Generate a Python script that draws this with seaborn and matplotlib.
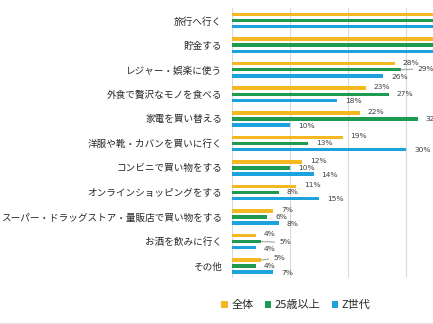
import matplotlib
matplotlib.use("Agg")
import matplotlib.pyplot as plt
from matplotlib.lines import Line2D
import pandas as pd
import seaborn as sns

# --- data -----------------------------------------------------------------
categories = [
    "旅行へ行く",
    "貯金する",
    "レジャー・娯楽に使う",
    "外食で贅沢なモノを食べる",
    "家電を買い替える",
    "洋服や靴・カバンを買いに行く",
    "コンビニで買い物をする",
    "オンラインショッピングをする",
    "スーパー・ドラッグストア・量販店で買い物をする",
    "お酒を飲みに行く",
    "その他",
]
series = ["全体", "25歳以上", "Z世代"]
overall = [47, 45, 28, 23, 22, 19, 12, 11, 7, 4, 5]
age25_plus = [50, 41, 29, 27, 32, 13, 10, 8, 6, 5, 4]
gen_z = [43, 49, 26, 18, 10, 30, 14, 15, 8, 4, 7]

colors = ["#F4B922", "#1E9B50", "#1CA2DC"]

df = pd.DataFrame({
    "category": categories * 3,
    "series": [series[0]] * len(categories)
              + [series[1]] * len(categories)
              + [series[2]] * len(categories),
    "value": overall + age25_plus + gen_z,
})

# --- figure ---------------------------------------------------------------
sns.set_theme(style="white")
plt.rcParams["font.family"] = ["Noto Sans CJK JP", "DejaVu Sans"]

W, H, DPI = 433, 324, 100
fig = plt.figure(figsize=(W / DPI, H / DPI), dpi=DPI)
fig.patch.set_facecolor("white")

left_px, top_px, bottom_px = 232.3, 8.4, 278.3
px_per_unit = 5.8  # pixels per percentage point
xmax = 60
ax = fig.add_axes([
    left_px / W,
    1 - bottom_px / H,
    xmax * px_per_unit / W,
    (bottom_px - top_px) / H,
])

sns.barplot(
    data=df, y="category", x="value", hue="series",
    order=categories, hue_order=series, palette=colors,
    orient="h", width=0.74, gap=0.42, saturation=1,
    errorbar=None, linewidth=0, ax=ax,
)

ax.set_xlim(0, xmax)
ax.set_xticks(range(0, xmax + 1, 10))
ax.set_xticklabels([])
ax.tick_params(axis="x", length=0)
ax.tick_params(axis="y", length=0, pad=7.2, labelsize=6.9, labelcolor="#262626")
ax.set_xlabel("")
ax.set_ylabel("")
ax.grid(axis="x", color="#d9d9d9", linewidth=0.8)
ax.grid(axis="y", visible=False)
ax.set_axisbelow(True)
for sp in ax.spines.values():
    sp.set_visible(False)

# --- value labels -----------------------------------------------------------
value_lists = [overall, age25_plus, gen_z]
dy_by_series = [1, 0, -1]  # vertical nudge in pixels per series
# labels pushed further out, joined to their bar by a short leader line
leader = {
    (1, 2): (17, 1),
    (1, 9): (18, -1),
    (0, 10): (12, 2),
}
for s_idx, cont in enumerate(ax.containers):
    for c_idx, bar in enumerate(cont):
        val = value_lists[s_idx][c_idx]
        y = bar.get_y() + bar.get_height() / 2
        if (s_idx, c_idx) in leader:
            dx, dy = leader[(s_idx, c_idx)]
            ax.annotate(
                f"{val}%", xy=(val, y), xytext=(dx, dy),
                textcoords="offset pixels", ha="left", va="center",
                fontsize=5.4, color="#404040", family="DejaVu Sans",
                annotation_clip=False,
                arrowprops=dict(arrowstyle="-", color="#a6a6a6", lw=0.8,
                                shrinkA=1, shrinkB=0),
            )
        else:
            ax.annotate(
                f"{val}%", xy=(val, y), xytext=(8, dy_by_series[s_idx]),
                textcoords="offset pixels", ha="left", va="center",
                fontsize=5.4, color="#404040", family="DejaVu Sans",
            )

# --- legend -----------------------------------------------------------------
handles, labels = ax.get_legend_handles_labels()
ax.get_legend().remove()
fig.legend(
    handles, labels, loc="center", bbox_to_anchor=(296 / W, 1 - 305 / H),
    ncol=3, frameon=False, fontsize=8, handlelength=0.6, handleheight=0.6,
    handletextpad=0.3, columnspacing=1.0, labelcolor="#262626",
)

# thin border along the bottom edge
fig.add_artist(Line2D([0, 1], [0.6 / H, 0.6 / H], color="#e6e6e6", lw=1,
                      transform=fig.transFigure))

fig.savefig("out.png", dpi=DPI)
